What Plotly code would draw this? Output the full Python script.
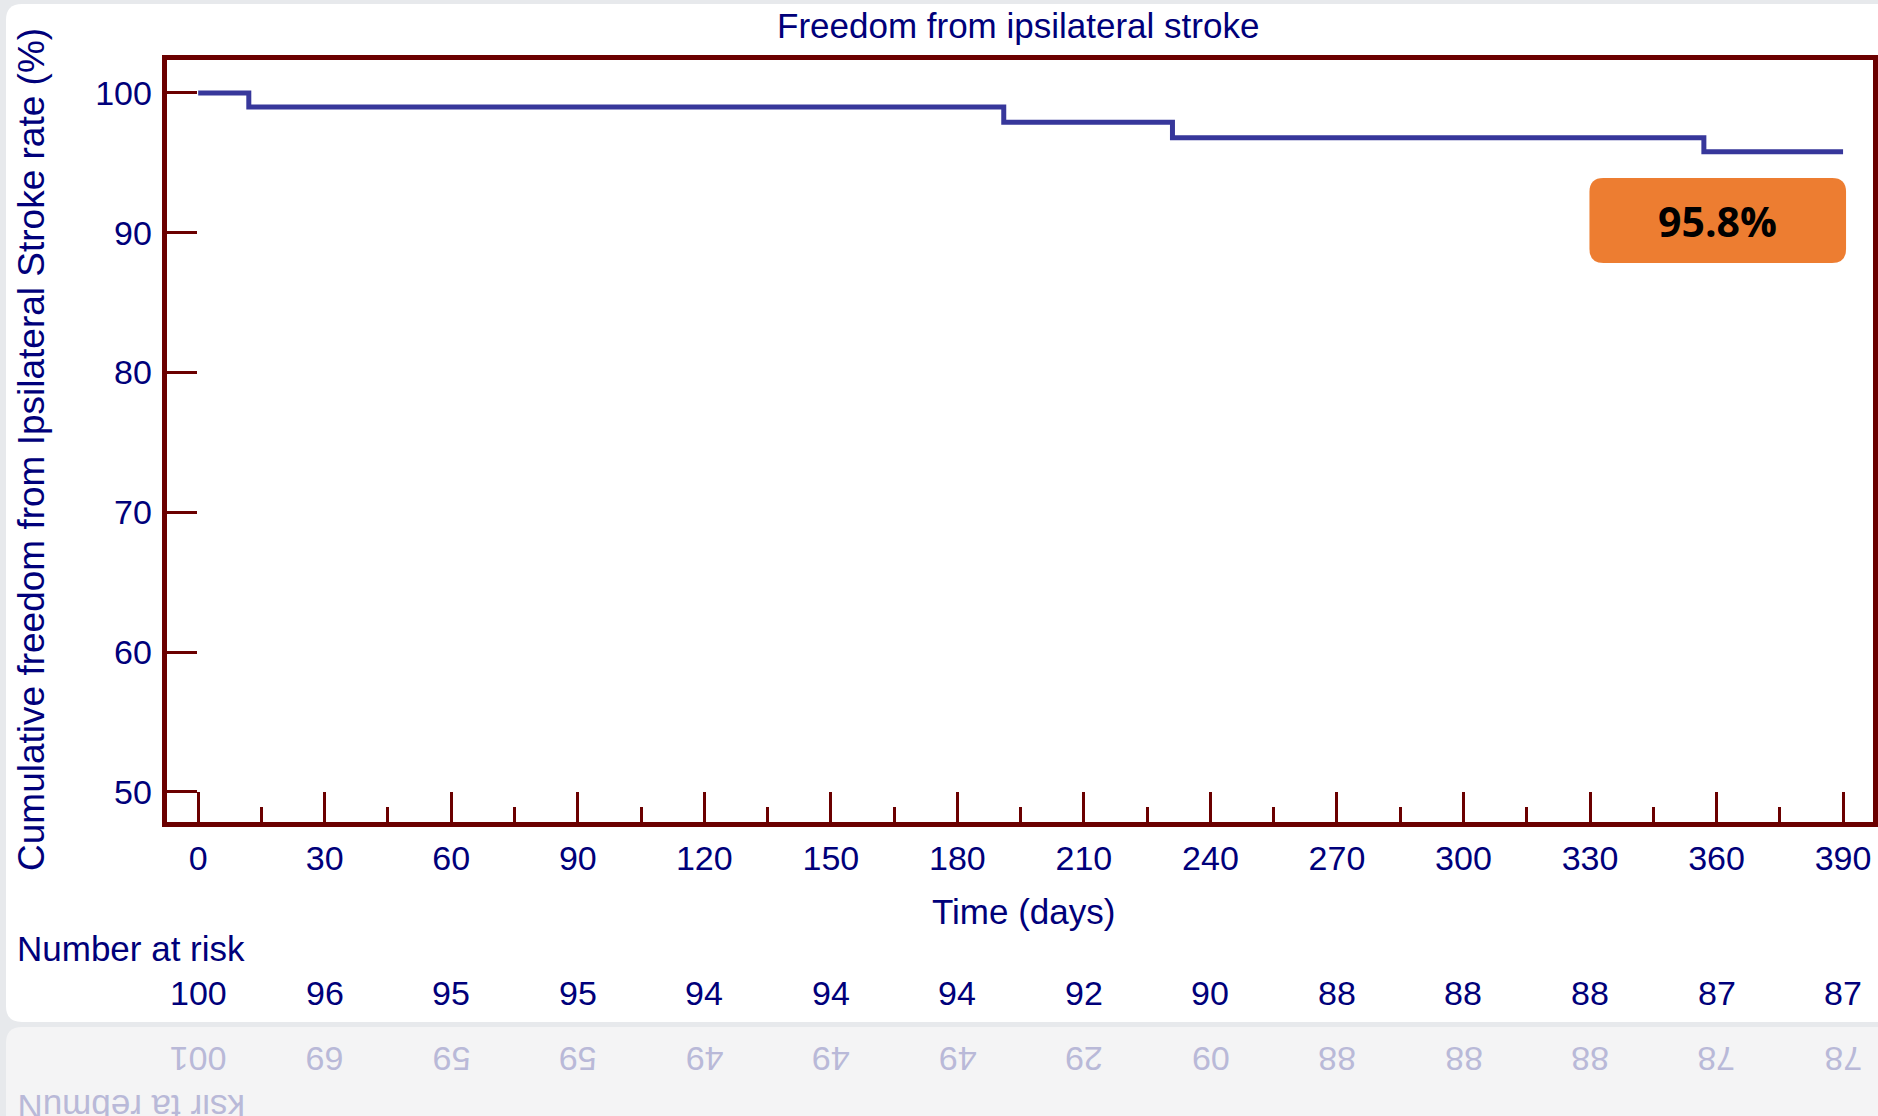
import plotly.graph_objects as go

W, H = 1878, 1116

# Kaplan-Meier estimate of freedom from ipsilateral stroke
days = [0, 12, 191, 231, 357, 390]
freedom = [100.0, 99.0, 97.9, 96.8, 95.8, 95.8]
final_rate = 95.8

x_ticks = list(range(0, 391, 30))
x_minor = list(range(15, 391, 30))
y_ticks = [50, 60, 70, 80, 90, 100]
at_risk = [100, 96, 95, 95, 94, 94, 94, 92, 90, 88, 88, 88, 87, 87]

FONT = "Liberation Sans, Arial, sans-serif"
NAVY = "#00007A"
FRAME = "#6B0000"
CURVE = "#37379B"
ORANGE = "#ED7D31"
PAGE = "#E7E9EC"
CARD = "#FFFFFF"
SHADOW = "#F4F4F5"
GHOST = "#B9B9D8"


def px(x):
    return x / W


def py(y):
    return 1 - y / H


def rounded_rect(x0, y0, x1, y1, r):
    pts = [
        ("M", [(x0 + r, y0)]),
        ("L", [(x1 - r, y0)]),
        ("Q", [(x1, y0), (x1, y0 + r)]),
        ("L", [(x1, y1 - r)]),
        ("Q", [(x1, y1), (x1 - r, y1)]),
        ("L", [(x0 + r, y1)]),
        ("Q", [(x0, y1), (x0, y1 - r)]),
        ("L", [(x0, y0 + r)]),
        ("Q", [(x0, y0), (x0 + r, y0)]),
    ]
    parts = []
    for cmd, coords in pts:
        parts.append(cmd + " ".join(f"{px(a):.5f},{py(b):.5f}" for a, b in coords))
    return " ".join(parts) + " Z"


def label(text, x, y, size, color=NAVY, xref="paper", xanchor="center", **kw):
    font = dict(family=kw.pop("family", FONT), size=size, color=color)
    if "weight" in kw:
        font["weight"] = kw.pop("weight")
    return dict(text=text, x=x, y=y, xref=xref, yref="paper", showarrow=False,
                xanchor=xanchor, yanchor="middle", font=font, **kw)


fig = go.Figure()
fig.add_trace(go.Scatter(
    x=days, y=freedom, mode="lines",
    line=dict(color=CURVE, width=5, shape="hv"),
    hoverinfo="skip", showlegend=False,
))

shapes = [
    # white card and its faded reflection
    dict(type="path", xref="paper", yref="paper", layer="below",
         path=rounded_rect(6, 4, 1920, 1022, 16), fillcolor=CARD, line=dict(width=0)),
    dict(type="path", xref="paper", yref="paper", layer="below",
         path=rounded_rect(6, 1027, 1920, 1140, 16), fillcolor=SHADOW, line=dict(width=0)),
    # rounded badge with the final estimate
    dict(type="path", xref="paper", yref="paper", layer="above",
         path=rounded_rect(1592, 178, 1849, 263, 14), fillcolor=ORANGE, line=dict(width=0)),
]

annotations = [
    label("Freedom from ipsilateral stroke", px(1020), py(25), 35),
    label("Cumulative freedom from Ipsilateral Stroke rate (%)", px(32), py(449), 37,
          textangle=-90),
    label("Time (days)", px(1025), py(911), 35),
    label("Number at risk", px(15), py(948), 35, xanchor="left"),
    label(f"{final_rate}%", px(1720), py(221), 41, color="#000000",
          family="Open Sans, sans-serif", weight="bold"),
    # reflected caption (upside down)
    label("Number at risk"[::-1], px(15), py(2056 - 948), 35, color=GHOST,
          xanchor="left", textangle=180),
]

for d, n in zip(x_ticks, at_risk):
    annotations.append(label(str(n), d, py(993), 34, xref="x"))
    annotations.append(label(str(n)[::-1], d, py(2052 - 993), 34, color=GHOST,
                             xref="x", textangle=180))

fig.update_layout(
    width=W, height=H,
    margin=dict(l=0, r=0, t=0, b=0),
    paper_bgcolor=PAGE,
    plot_bgcolor="rgba(0,0,0,0)",
    showlegend=False,
    shapes=shapes,
    annotations=annotations,
    xaxis=dict(
        domain=[px(167), px(1876)], range=[-7.46, 397.1],
        tickmode="array", tickvals=x_ticks,
        ticks="inside", ticklen=30, tickwidth=3, tickcolor=FRAME,
        minor=dict(tickmode="array", tickvals=x_minor, ticks="inside",
                   ticklen=15, tickwidth=3, tickcolor=FRAME, showgrid=False),
        showline=True, linecolor=FRAME, linewidth=5, mirror=True,
        showgrid=False, zeroline=False,
        tickfont=dict(family=FONT, size=34, color=NAVY),
        ticklabelstandoff=2,
        fixedrange=True,
    ),
    yaxis=dict(
        domain=[py(822), py(60)], range=[47.85, 102.36],
        tickmode="array", tickvals=y_ticks,
        ticks="inside", ticklen=30, tickwidth=3, tickcolor=FRAME,
        showline=True, linecolor=FRAME, linewidth=5, mirror=True,
        showgrid=False, zeroline=False,
        tickfont=dict(family=FONT, size=34, color=NAVY),
        ticklabelstandoff=3,
        fixedrange=True,
    ),
)

fig.write_html("out.html")
